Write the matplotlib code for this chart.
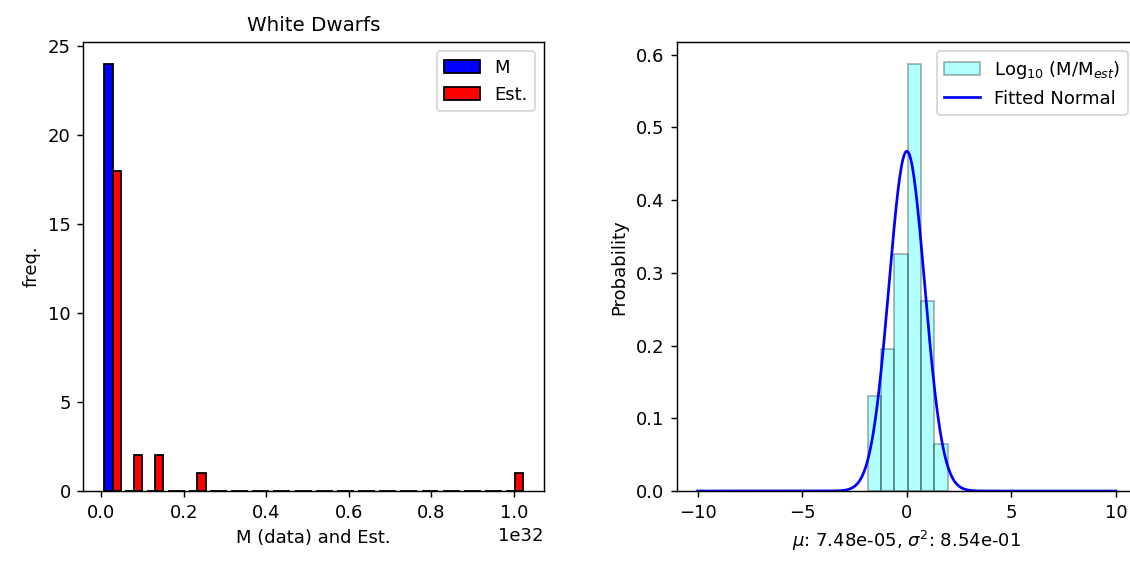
import numpy as np
import matplotlib
matplotlib.use("Agg")
import matplotlib.pyplot as plt

# White dwarf masses (kg): measured and estimated
m_data = [1.05e30, 1.19e30, 1.35e30, 0.98e30, 1.21e30, 1.10e30, 1.27e30, 0.85e30,
          1.42e30, 1.16e30, 1.31e30, 0.93e30, 1.08e30, 1.24e30, 1.38e30, 1.02e30,
          1.13e30, 1.29e30, 0.90e30, 1.46e30, 1.18e30, 1.33e30, 0.96e30, 1.23e30]
m_est = [0.20e30, 0.45e30, 0.80e30, 1.10e30, 1.40e30, 1.75e30, 2.10e30, 2.30e30,
         2.55e30, 2.80e30, 3.05e30, 3.30e30, 3.60e30, 3.85e30, 4.10e30, 4.40e30,
         4.70e30, 4.95e30, 7.10e30, 9.20e30, 11.8e30, 14.1e30, 23.5e30, 102.7e30]

# log10(M / M_est) values for the right panel
log_ratio = [-1.88, -1.50,
             -1.10, -0.90, -0.70,
             -0.55, -0.40, -0.30, -0.15, -0.05,
             0.05, 0.10, 0.15, 0.20, 0.30, 0.35, 0.45, 0.55, 0.60,
             0.75, 0.90, 1.05, 1.20,
             1.95]

# fitted parameters as shown in the label
mu_fit = 7.48e-05
sig_fit = 8.54e-01

W, H = 1130, 562
fig = plt.figure(figsize=(W / 130, H / 130), dpi=130)
ax1 = fig.add_axes([83.3 / W, 71 / H, 460.7 / W, 448.7 / H])
ax2 = fig.add_axes([676.7 / W, 71 / H, 460.3 / W, 448.7 / H])

# left: side-by-side histogram
ax1.hist([m_data, m_est], bins=20, color=['blue', 'red'], edgecolor='black',
         label=['M', 'Est.'])
ax1.set_title('White Dwarfs', fontsize=11)
ax1.set_xlabel('M (data) and Est.')
ax1.set_ylabel('freq.')
ax1.legend(loc='upper right')

# right: density histogram + normal curve
ax2.hist(log_ratio, bins=6, density=True, color='cyan', alpha=0.3, edgecolor='black',
         label=r'Log$_{10}$ (M/M$_{est}$)')
x = np.linspace(-10, 10, 500)
pdf = np.exp(-0.5 * ((x - mu_fit) / sig_fit) ** 2) / (sig_fit * np.sqrt(2 * np.pi))
ax2.plot(x, pdf, color='blue', linewidth=1.5, label='Fitted Normal')
ax2.set_xlabel(r'$\mu$: %.2e, $\sigma^2$: %.2e' % (mu_fit, sig_fit))
ax2.set_ylabel('Probability')
ax2.legend(loc='upper right')

fig.savefig('out.png', dpi=130)
